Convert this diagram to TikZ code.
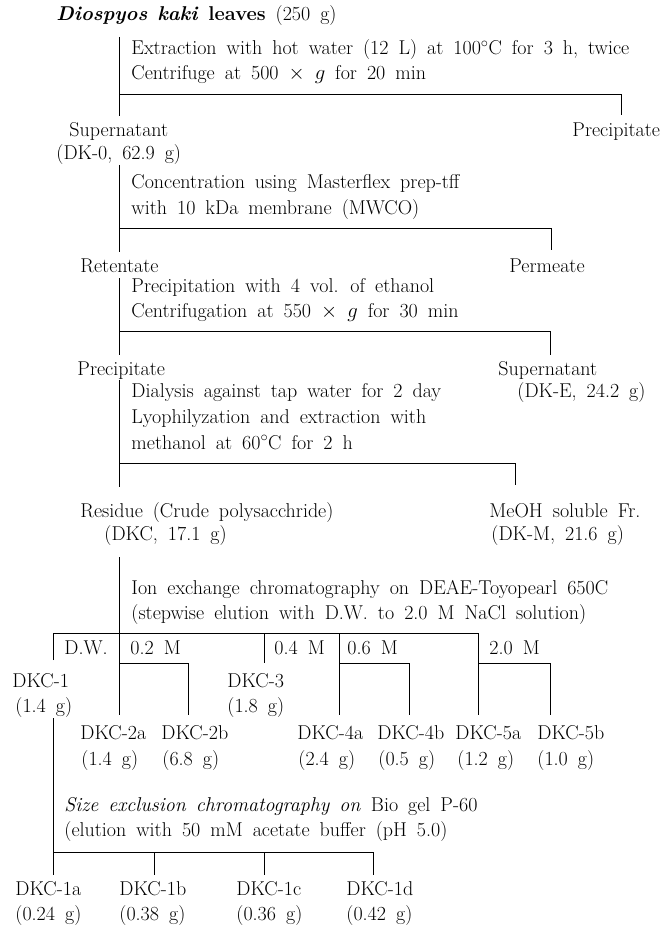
\documentclass[tikz,border=0pt]{standalone}
\usepackage{tikz}
\newcommand{\flowfont}{\fontsize{20}{23}\selectfont\spaceskip=10pt plus 2pt minus 1pt\relax}
\begin{document}
\begin{tikzpicture}[x=1pt, y=-1pt, line width=0.9pt,
    lbl/.style={anchor=west, inner sep=0pt, text height=14pt, text depth=4pt, font=\flowfont}]
    \useasboundingbox (0,0) rectangle (670,928);

    \node[lbl] (src) at (56,16) {\textbf{\textit{Diospyos kaki}} \textbf{leaves} (250 g)};

    \coordinate (s1t) at (119,37);
    \coordinate (s1b) at (119,116);
    \coordinate (j1l) at (119,94);
    \coordinate (j1r) at (621,94);
    \coordinate (j1b) at (621,115);
    \draw (s1t) -- (s1b);
    \draw (j1l) -- (j1r) -- (j1b);
    \node[lbl] (ext) at (131,50) {Extraction with hot water (12 L) at 100$^{\circ}$C for 3 h, twice};
    \node[lbl] (cf1) at (131,75) {Centrifuge at 500 $\times$ $g$ for 20 min};
    \node[lbl] (sup1) at (69,132) {Supernatant};
    \node[lbl] (dk0) at (56,155) {(DK-0, 62.9 g)};
    \node[lbl] (ppt1) at (572,132) {Precipitate};

    \coordinate (s2t) at (119,165);
    \coordinate (s2b) at (119,252);
    \coordinate (j2l) at (119,228);
    \coordinate (j2r) at (551,228);
    \coordinate (j2b) at (551,250);
    \draw (s2t) -- (s2b);
    \draw (j2l) -- (j2r) -- (j2b);
    \node[lbl] (conc) at (131,184) {Concentration using Masterflex prep-tff};
    \node[lbl] (mem) at (131,209) {with 10 kDa membrane (MWCO)};
    \node[lbl] (ret) at (80,267) {Retentate};
    \node[lbl] (perm) at (509,267) {Permeate};

    \coordinate (s3t) at (119,278);
    \coordinate (s3b) at (119,355);
    \coordinate (j3l) at (119,331);
    \coordinate (j3r) at (550,331);
    \coordinate (j3b) at (550,355);
    \draw (s3t) -- (s3b);
    \draw (j3l) -- (j3r) -- (j3b);
    \node[lbl] (etoh) at (131,287) {Precipitation with 4 vol. of ethanol};
    \node[lbl] (cf2) at (131,312) {Centrifugation at 550 $\times$ $g$ for 30 min};
    \node[lbl] (ppt2) at (77,370) {Precipitate};
    \node[lbl] (sup2) at (498,370) {Supernatant};
    \node[lbl] (dke) at (517,392) {(DK-E, 24.2 g)};

    \coordinate (s4t) at (119,380);
    \coordinate (s4b) at (119,487);
    \coordinate (j4l) at (119,463);
    \coordinate (j4r) at (515,463);
    \coordinate (j4b) at (515,485);
    \draw (s4t) -- (s4b);
    \draw (j4l) -- (j4r) -- (j4b);
    \node[lbl] (dial) at (131,392) {Dialysis against tap water for 2 day};
    \node[lbl] (lyo) at (131,418) {Lyophilyzation and extraction with};
    \node[lbl] (meth) at (131,444) {methanol at 60$^{\circ}$C for 2 h};
    \node[lbl] (res) at (80,512) {Residue (Crude polysacchride)};
    \node[lbl] (dkc) at (104,535) {(DKC, 17.1 g)};
    \node[lbl] (meoh) at (489,512) {MeOH soluble Fr.};
    \node[lbl] (dkm) at (491,535) {(DK-M, 21.6 g)};

    \coordinate (s5t) at (119,557);
    \coordinate (j5) at (119,633);
    \coordinate (s5b) at (119,715);
    \coordinate (w5) at (53,633);
    \coordinate (w5b) at (53,660);
    \coordinate (e5) at (478,633);
    \coordinate (e5b) at (478,715);
    \coordinate (c4) at (264,633);
    \coordinate (c4b) at (264,663);
    \coordinate (c6) at (339,633);
    \coordinate (c6b) at (339,715);
    \coordinate (b2l) at (119,663);
    \coordinate (b2r) at (188,663);
    \coordinate (b2b) at (188,715);
    \coordinate (b4l) at (339,663);
    \coordinate (b4r) at (409,663);
    \coordinate (b4b) at (409,715);
    \coordinate (b5l) at (478,663);
    \coordinate (b5r) at (550,663);
    \coordinate (b5b) at (550,715);
    \draw (s5t) -- (s5b);
    \draw (w5b) -- (w5) -- (e5) -- (e5b);
    \draw (c4) -- (c4b);
    \draw (c6) -- (c6b);
    \draw (b2l) -- (b2r) -- (b2b);
    \draw (b4l) -- (b4r) -- (b4b);
    \draw (b5l) -- (b5r) -- (b5b);
    \node[lbl] (ion) at (131,589) {Ion exchange chromatography on DEAE-Toyopearl 650C};
    \node[lbl] (stw) at (131,614) {(stepwise elution with D.W. to 2.0 M NaCl solution)};
    \node[lbl] (dw) at (64,649) {D.W.};
    \node[lbl] (m02) at (130,649) {0.2 M};
    \node[lbl] (m04) at (274,649) {0.4 M};
    \node[lbl] (m06) at (347,649) {0.6 M};
    \node[lbl] (m20) at (489,649) {2.0 M};

    \node[lbl] (k1) at (12,682) {DKC-1};
    \node[lbl] (k1g) at (15,707) {(1.4 g)};
    \node[lbl] (k3) at (227,682) {DKC-3};
    \node[lbl] (k3g) at (227,707) {(1.8 g)};
    \node[lbl] (k2a) at (80,734) {DKC-2a};
    \node[lbl] (k2b) at (161,734) {DKC-2b};
    \node[lbl] (k4a) at (297,734) {DKC-4a};
    \node[lbl] (k4b) at (377,734) {DKC-4b};
    \node[lbl] (k5a) at (455,734) {DKC-5a};
    \node[lbl] (k5b) at (537,734) {DKC-5b};
    \node[lbl] (k2ag) at (81,760) {(1.4 g)};
    \node[lbl] (k2bg) at (162,760) {(6.8 g)};
    \node[lbl] (k4ag) at (298,760) {(2.4 g)};
    \node[lbl] (k4bg) at (378,760) {(0.5 g)};
    \node[lbl] (k5ag) at (457,760) {(1.2 g)};
    \node[lbl] (k5bg) at (537,760) {(1.0 g)};

    \coordinate (s6t) at (53,718);
    \coordinate (j6) at (53,852);
    \coordinate (s6b) at (53,875);
    \coordinate (d6a) at (154,852);
    \coordinate (d6ab) at (154,875);
    \coordinate (d6b) at (264,852);
    \coordinate (d6bb) at (264,875);
    \coordinate (d6c) at (373,852);
    \coordinate (d6cb) at (373,875);
    \draw (s6t) -- (s6b);
    \draw (j6) -- (d6c) -- (d6cb);
    \draw (d6a) -- (d6ab);
    \draw (d6b) -- (d6bb);
    \node[lbl] (sec) at (64,806) {\textit{Size exclusion chromatography on} Bio gel P-60};
    \node[lbl] (elu) at (64,831) {(elution with 50 mM acetate buffer (pH 5.0)};
    \node[lbl] (k1a) at (15,890) {DKC-1a};
    \node[lbl] (k1b) at (119,890) {DKC-1b};
    \node[lbl] (k1c) at (236,890) {DKC-1c};
    \node[lbl] (k1d) at (346,890) {DKC-1d};
    \node[lbl] (k1ag) at (15,915) {(0.24 g)};
    \node[lbl] (k1bg) at (119,915) {(0.38 g)};
    \node[lbl] (k1cg) at (236,915) {(0.36 g)};
    \node[lbl] (k1dg) at (346,915) {(0.42 g)};
\end{tikzpicture}
\end{document}
